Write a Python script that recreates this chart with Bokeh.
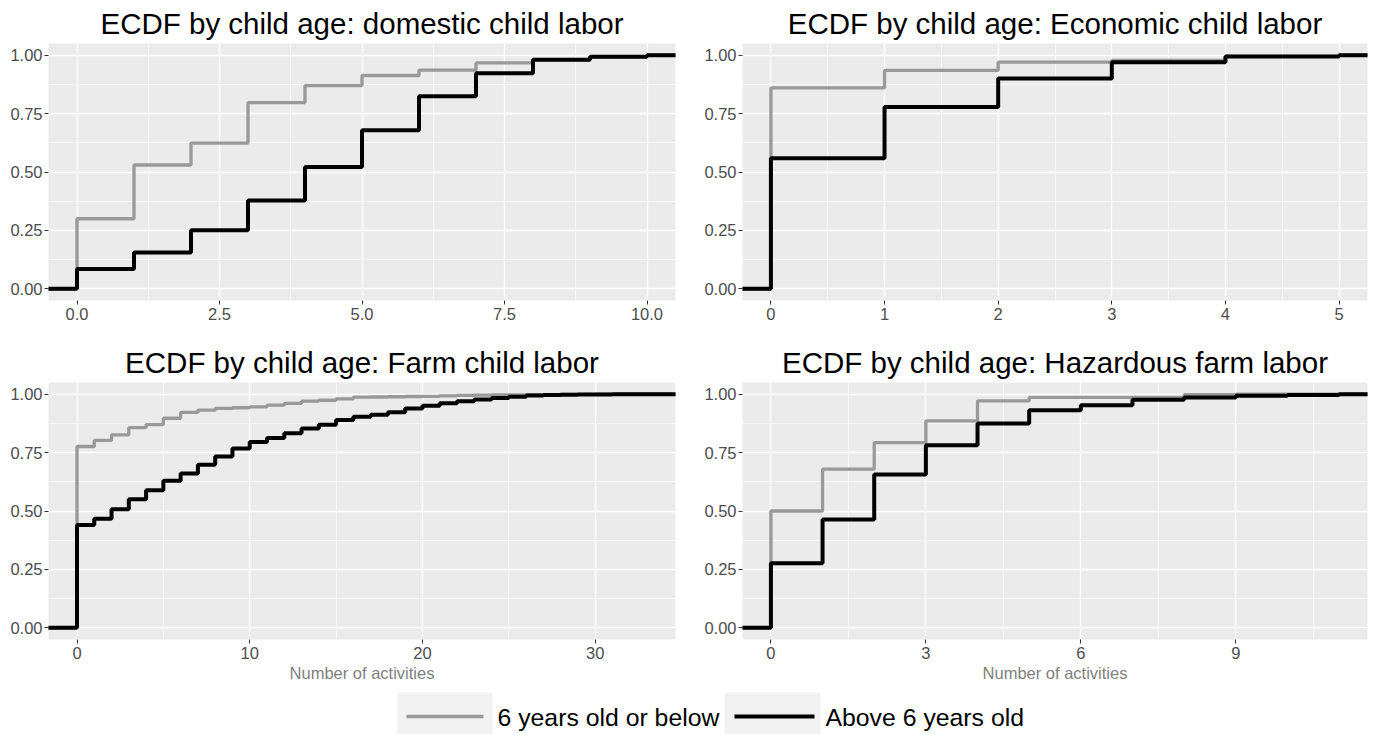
from bokeh.plotting import figure
from bokeh.models import Range1d, FixedTicker
from bokeh.layouts import column, row
from bokeh.embed import file_html
from bokeh.resources import INLINE
from bokeh.core.properties import value

FONT = "Liberation Sans"
GRAY = "#999999"
BLACK = "#000000"

series_labels = ["6 years old or below", "Above 6 years old"]
x_axis_title = "Number of activities"

titles = [
    "ECDF by child age: domestic child labor",
    "ECDF by child age: Economic child labor",
    "ECDF by child age: Farm child labor",
    "ECDF by child age: Hazardous farm labor",
]

# ---- domestic child labor ----
domestic_x = [0, 1, 2, 3, 4, 5, 6, 7, 8, 9, 10]
domestic_young = [0.300, 0.530, 0.624, 0.797, 0.870, 0.913, 0.936, 0.967, 0.980, 0.993, 1.000]
domestic_old = [0.085, 0.155, 0.251, 0.378, 0.521, 0.679, 0.824, 0.923, 0.980, 0.993, 1.000]
domestic_ticks = [0, 2.5, 5, 7.5, 10]
domestic_tick_labels = ["0.0", "2.5", "5.0", "7.5", "10.0"]

# ---- economic child labor ----
economic_x = [0, 1, 2, 3, 4, 5]
economic_young = [0.860, 0.935, 0.970, 0.978, 0.995, 1.000]
economic_old = [0.559, 0.778, 0.900, 0.970, 0.994, 1.000]
economic_ticks = [0, 1, 2, 3, 4, 5]
economic_tick_labels = ["0", "1", "2", "3", "4", "5"]

# ---- farm child labor ----
farm_x = list(range(0, 34))
farm_young = [0.776, 0.802, 0.826, 0.857, 0.870, 0.897, 0.922, 0.932, 0.939, 0.942,
              0.946, 0.953, 0.961, 0.970, 0.974, 0.980, 0.987, 0.988, 0.989, 0.990,
              0.991, 0.993, 0.995, 0.996, 0.997, 0.997, 0.998, 0.998, 0.999, 0.999,
              1.000, 1.000, 1.000, 1.000]
farm_old = [0.440, 0.467, 0.507, 0.550, 0.589, 0.629, 0.660, 0.698, 0.733, 0.767,
            0.795, 0.812, 0.833, 0.853, 0.869, 0.890, 0.903, 0.912, 0.923, 0.939,
            0.951, 0.961, 0.970, 0.977, 0.984, 0.989, 0.994, 0.996, 0.998, 0.999,
            0.999, 0.9995, 0.9998, 1.000]
farm_ticks = [0, 10, 20, 30]
farm_tick_labels = ["0", "10", "20", "30"]

# ---- hazardous farm labor ----
hazard_x = [0, 1, 2, 3, 4, 5, 6, 7, 8, 9, 10, 11]
hazard_young = [0.500, 0.679, 0.793, 0.886, 0.971, 0.986, 0.986, 0.986, 0.998, 1.000, 1.000, 1.000]
hazard_old = [0.276, 0.464, 0.656, 0.781, 0.874, 0.931, 0.953, 0.976, 0.986, 0.993, 0.997, 1.000]
hazard_ticks = [0, 3, 6, 9]
hazard_tick_labels = ["0", "3", "6", "9"]

y_ticks = [0, 0.25, 0.5, 0.75, 1.0]
y_tick_labels = ["0.00", "0.25", "0.50", "0.75", "1.00"]


def minor_between(ticks):
    step = ticks[1] - ticks[0]
    out = [ticks[0] - step / 2]
    for a, b in zip(ticks[:-1], ticks[1:]):
        out.append((a + b) / 2)
    out.append(ticks[-1] + step / 2)
    return out


def key(t):
    return int(t) if float(t).is_integer() else t


def make_panel(title, xs, young, old, ticks, tick_labels, xlabel,
               width, height, bl, br, bt, bb):
    lo, hi = min(xs), max(xs)
    pad = 0.05 * (hi - lo)
    p = figure(width=width, height=height,
               x_range=Range1d(lo - pad, hi + pad), y_range=Range1d(-0.05, 1.05),
               output_backend="svg", toolbar_location=None,
               min_border_left=bl, min_border_right=br,
               min_border_top=bt, min_border_bottom=bb)
    p.title.text = title
    p.title.text_font = FONT
    p.title.text_font_size = "29.5px"
    p.title.text_font_style = "normal"
    p.title.text_color = "#000000"
    p.title.align = "center"
    p.title.standoff = 7
    p.background_fill_color = "#EBEBEB"
    p.border_fill_color = "white"
    p.outline_line_color = None

    p.xaxis.ticker = FixedTicker(ticks=ticks, minor_ticks=minor_between(ticks))
    p.yaxis.ticker = FixedTicker(ticks=y_ticks, minor_ticks=minor_between(y_ticks))
    p.xaxis.major_label_overrides = {key(t): s for t, s in zip(ticks, tick_labels)}
    p.yaxis.major_label_overrides = {key(t): s for t, s in zip(y_ticks, y_tick_labels)}
    for ax in (p.xaxis[0], p.yaxis[0]):
        ax.axis_line_color = None
        ax.major_tick_line_color = "#333333"
        ax.major_tick_line_width = 1
        ax.major_tick_out = 4
        ax.major_tick_in = 0
        ax.minor_tick_line_color = None
        ax.major_label_text_font = FONT
        ax.major_label_text_font_size = "16.5px"
        ax.major_label_text_color = "#4D4D4D"
    p.xaxis.major_label_standoff = 3
    p.yaxis.major_label_standoff = 2
    if xlabel:
        p.xaxis.axis_label = xlabel
        p.xaxis.axis_label_text_font = FONT
        p.xaxis.axis_label_text_font_size = "16.5px"
        p.xaxis.axis_label_text_font_style = "normal"
        p.xaxis.axis_label_text_color = "#7F7F7F"
        p.xaxis.axis_label_standoff = 2

    for g in (p.xgrid[0], p.ygrid[0]):
        g.grid_line_color = "white"
        g.grid_line_width = 1.3
        g.minor_grid_line_color = "white"
        g.minor_grid_line_width = 0.6

    far = 1000 * (hi - lo + 1)
    sx = [lo - far] + list(xs) + [hi + far]
    p.step(sx, [0] + list(young) + [1], mode="after", line_color=GRAY, line_width=3.3)
    p.step(sx, [0] + list(old) + [1], mode="after", line_color=BLACK, line_width=4)
    return p


p1 = make_panel(titles[0], domestic_x, domestic_young, domestic_old,
                domestic_ticks, domestic_tick_labels, None, 701, 340, 48, 26, 43, 40)
p2 = make_panel(titles[1], economic_x, economic_young, economic_old,
                economic_ticks, economic_tick_labels, None, 675, 340, 40, 9, 43, 40)
p3 = make_panel(titles[2], farm_x, farm_young, farm_old,
                farm_ticks, farm_tick_labels, x_axis_title, 701, 345, 48, 26, 42, 46)
p4 = make_panel(titles[3], hazard_x, hazard_young, hazard_old,
                hazard_ticks, hazard_tick_labels, x_axis_title, 675, 345, 40, 9, 42, 46)

# ---- legend strip ----
LEG_W, LEG_H = 1376, 49
leg = figure(width=LEG_W, height=LEG_H, x_range=Range1d(0, LEG_W), y_range=Range1d(0, LEG_H),
             output_backend="svg", toolbar_location=None,
             min_border=0, min_border_left=0, min_border_right=0,
             min_border_top=0, min_border_bottom=0)
leg.axis.visible = False
leg.grid.visible = False
leg.outline_line_color = None
leg.background_fill_color = "white"
leg.border_fill_color = "white"
box_left = [397, 724]
box_right = [492, 820]
line_left = [406, 734]
line_right = [483, 814]
text_left = [497, 825]
box_bottom, box_top = 0, 42
line_y, text_y = 18, 17
leg.quad(left=box_left, right=box_right, bottom=[box_bottom] * 2, top=[box_top] * 2,
         fill_color="#F2F2F2", line_color=None)
leg.segment(x0=line_left[:1], x1=line_right[:1], y0=[line_y], y1=[line_y], line_color=GRAY, line_width=3.3)
leg.segment(x0=line_left[1:], x1=line_right[1:], y0=[line_y], y1=[line_y], line_color=BLACK, line_width=4)
leg.text(x=text_left, y=[text_y, text_y], text=series_labels, text_font=value(FONT),
         text_font_size="24.8px", text_baseline="middle", text_align="left", text_color="#000000")

layout = column(row(p1, p2), row(p3, p4), leg)
open("out.html", "w").write(file_html(layout, INLINE))
